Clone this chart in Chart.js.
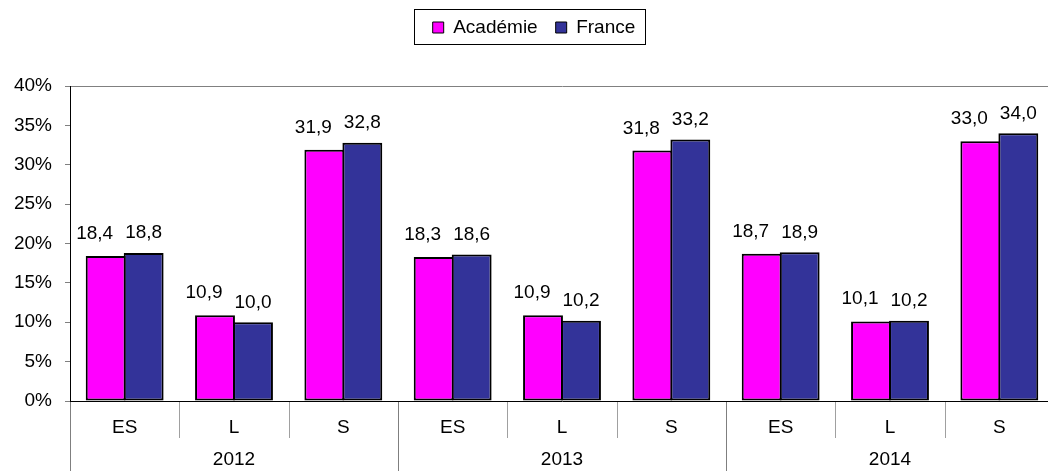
<!DOCTYPE html>
<html><head><meta charset="utf-8">
<script src="https://cdn.jsdelivr.net/npm/chart.js@4.4.0/dist/chart.umd.min.js"></script>
<style>html,body{margin:0;padding:0;background:#fff;overflow:hidden}#wrap{width:1061px;height:471px;position:relative}</style>
</head><body><div id="wrap"><canvas id="c" width="1061" height="471"></canvas></div>
<script>
const categories = ['ES','L','S','ES','L','S','ES','L','S'];
const years = ['2012','2013','2014'];
const academie = [18.4,10.9,31.9,18.3,10.9,31.8,18.7,10.1,33.0];
const france = [18.8,10.0,32.8,18.6,10.2,33.2,18.9,10.2,34.0];
const seriesNames = ['Académie','France'];
const yMin = 0, yMax = 40, yStep = 5;

const FONT = "'Liberation Sans', Arial, sans-serif";

const legendHeight = {
  id: 'legendHeight',
  beforeInit(chart) {
    const lg = chart.legend;
    const f = lg.fit;
    lg.fit = function () { f.call(this); this.height = 86; };
  },
  afterLayout(chart) {
    const lg = chart.legend;
    lg.left += 7;
    lg.right += 7;
    if (lg.adjustHitBoxes) lg.adjustHitBoxes();
  }
};

const legendFrame = {
  id: 'legendFrame',
  afterDraw(chart) {
    const hb = chart.legend.legendHitBoxes;
    if (!hb || !hb.length) return;
    const ctx = chart.ctx;
    const first = hb[0], last = hb[hb.length - 1];
    const l = Math.round(first.left - 19) + 0.5;
    const r = Math.round(last.left + last.width + 10) + 0.5;
    const t = 9.5, b = 44.5;
    ctx.save();
    ctx.strokeStyle = '#000';
    ctx.lineWidth = 1;
    ctx.strokeRect(l, t, r - l, b - t);
    ctx.restore();
  }
};

const categoryAxis = {
  id: 'categoryAxis',
  afterDraw(chart) {
    const xs = chart.scales.x;
    const ctx = chart.ctx;
    const w = xs.getPixelForValue(1) - xs.getPixelForValue(0);
    ctx.save();
    ctx.lineWidth = 1;
    for (let i = 0; i <= categories.length; i++) {
      const bx = Math.round(xs.getPixelForValue(Math.min(i, categories.length - 1)) + (i < categories.length ? -w / 2 : w / 2)) + 0.5;
      ctx.beginPath();
      if (i % 3 === 0) {
        ctx.strokeStyle = '#7f7f7f';
        ctx.moveTo(bx, xs.top + 1);
        ctx.lineTo(bx, chart.height);
      } else {
        ctx.strokeStyle = '#a0a0a0';
        ctx.moveTo(bx, xs.top + 1);
        ctx.lineTo(bx, xs.top + 37);
      }
      ctx.stroke();
    }
    ctx.fillStyle = '#000';
    ctx.font = '19px ' + FONT;
    ctx.textAlign = 'center';
    ctx.textBaseline = 'middle';
    years.forEach((y, k) => {
      ctx.fillText(y, xs.getPixelForValue(3 * k + 1), 460);
    });
    ctx.restore();
  }
};

const dataLabels = {
  id: 'dataLabels',
  afterDatasetsDraw(chart) {
    const ctx = chart.ctx;
    ctx.save();
    ctx.fillStyle = '#000';
    ctx.font = '19px ' + FONT;
    ctx.textAlign = 'center';
    ctx.textBaseline = 'alphabetic';
    chart.data.datasets.forEach((ds, di) => {
      const meta = chart.getDatasetMeta(di);
      meta.data.forEach((bar, i) => {
        const txt = ds.data[i].toFixed(1).replace('.', ',');
        ctx.fillText(txt, bar.x + (di === 0 ? -11 : 0), bar.y - (di === 0 ? 17 : 14.5));
      });
    });
    ctx.restore();
  }
};

new Chart(document.getElementById('c'), {
  type: 'bar',
  data: {
    labels: categories,
    datasets: [
      { label: seriesNames[0], data: academie, backgroundColor: '#FF00FF', borderColor: '#000', borderWidth: 2, borderSkipped: false },
      { label: seriesNames[1], data: france, backgroundColor: '#333399', borderColor: '#000', borderWidth: 2, borderSkipped: false }
    ]
  },
  options: {
    responsive: false,
    devicePixelRatio: 1,
    animation: false,
    categoryPercentage: 0.695,
    barPercentage: 1.05,
    layout: { padding: { left: 0, right: 7, top: 0, bottom: 0 } },
    plugins: {
      legend: {
        position: 'top',
        align: 'center',
        labels: {
          font: { family: FONT, size: 19 },
          color: '#000',
          boxWidth: 11,
          boxHeight: 11,
          padding: 18,
          generateLabels(chart) {
            return Chart.defaults.plugins.legend.labels.generateLabels(chart).map(l => Object.assign(l, { lineWidth: 1 }));
          }
        }
      },
      tooltip: { enabled: false }
    },
    scales: {
      x: {
        grid: { display: false },
        border: { display: true, color: '#000', width: 1 },
        ticks: { font: { family: FONT, size: 19 }, color: '#000', padding: 7, maxRotation: 0, autoSkip: false },
        afterFit(scale) { scale.height = 70; }
      },
      y: {
        min: yMin, max: yMax,
        grid: {
          color: ctx => (ctx.tick && ctx.tick.value === yMax ? '#808080' : 'rgba(0,0,0,0)'),
          tickColor: '#808080',
          tickLength: 5,
          drawOnChartArea: true
        },
        border: { display: true, color: '#000', width: 1 },
        ticks: {
          stepSize: yStep,
          font: { family: FONT, size: 19 },
          color: '#000',
          padding: 13,
          callback: v => v + '%'
        },
        afterFit(scale) { scale.width = 70; }
      }
    }
  },
  plugins: [legendHeight, legendFrame, categoryAxis, dataLabels]
});
</script>
</body></html>
